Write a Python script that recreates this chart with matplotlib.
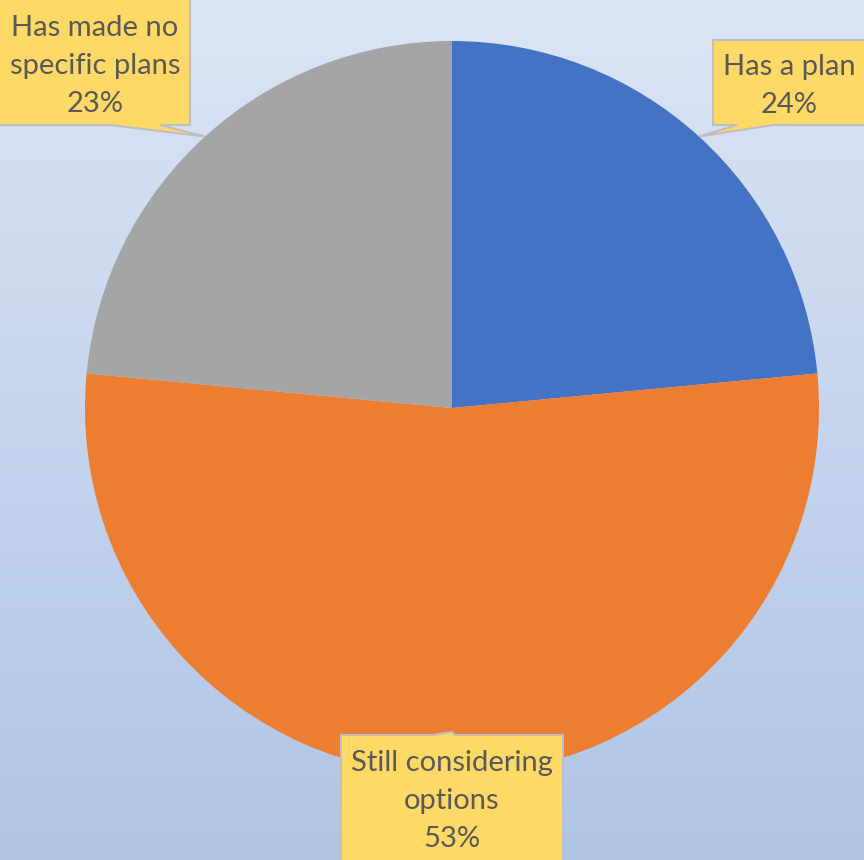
import numpy as np
import matplotlib.pyplot as plt
from matplotlib.patches import Polygon

# chart data (slice sizes as drawn, labels as printed)
labels = ["Has a plan", "Still considering\noptions", "Has made no\nspecific plans"]
shares = [23.5, 53.0, 23.5]
pct_text = ["24%", "53%", "23%"]
colors = ["#4472C4", "#ED7D31", "#A5A5A5"]

W, H = 864, 860
fig = plt.figure(figsize=(W / 100, H / 100), dpi=100)

# background gradient
bg = fig.add_axes([0, 0, 1, 1], zorder=0)
grad = np.linspace(0, 1, 256).reshape(-1, 1)
top = np.array([220, 229, 245]) / 255
bot = np.array([176, 196, 230]) / 255
img = top + (bot - top) * grad[:, :, None]
bg.imshow(img, aspect="auto", extent=[0, 1, 0, 1])
bg.axis("off")

# pie, centre (452, 408) px, radius 367 px
cx, cy, r = 452, 408, 367
ax = fig.add_axes([(cx - r) / W, 1 - (cy + r) / H, 2 * r / W, 2 * r / H], zorder=1)
wedges, _ = ax.pie(shares, colors=colors, startangle=90, counterclock=False,
                   wedgeprops=dict(linewidth=0))
ax.set_xlim(-1, 1)
ax.set_ylim(-1, 1)
ax.set_aspect("auto")

# overlay in pixel coords for the callouts
ov = fig.add_axes([0, 0, 1, 1], zorder=2)
ov.set_xlim(0, W)
ov.set_ylim(H, 0)
ov.axis("off")


def tip_px(w):
    th = np.deg2rad((w.theta1 + w.theta2) / 2)
    disp = ax.transData.transform((np.cos(th), np.sin(th)))
    return ov.transData.inverted().transform(disp)


# box: x0, y0, x1, y1, pointer base (xa, xb) on given side
boxes = [
    (713, 40, 875, 125, (737, 773), "bottom"),
    (341, 735, 563, 875, (433, 455), "top"),
    (-5, -5, 190, 125, (110, 160), "bottom"),
]
txt_pos = [(789, 86), (452, 801), (95, 66)]

for w, lab, pct, (x0, y0, x1, y1, (xa, xb), side), (tx, ty) in zip(
        wedges, labels, pct_text, boxes, txt_pos):
    tip = tip_px(w)
    if side == "bottom":
        pts = [(x0, y0), (x1, y0), (x1, y1), (xb, y1), tuple(tip), (xa, y1), (x0, y1)]
    else:
        tip = (tip[0], y0 - 3)
        pts = [(x0, y0), (xa, y0), tip, (xb, y0), (x1, y0), (x1, y1), (x0, y1)]
    ov.add_patch(Polygon(pts, closed=True, facecolor="#FFD966",
                         edgecolor="#BFBFBF", linewidth=1.5))
    ov.text(tx, ty, f"{lab}\n{pct}", ha="center", va="center",
            fontsize=21, color="#595959", family="Lato", linespacing=1.55)

fig.savefig("out.png", dpi=100)
